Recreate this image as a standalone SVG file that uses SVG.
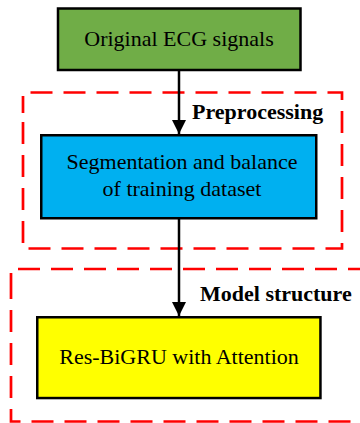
<svg xmlns="http://www.w3.org/2000/svg" width="360" height="423" viewBox="0 0 360 423">
<style>
.box{stroke:#000;stroke-width:2.5}
.grp{fill:none;stroke:#FF0000;stroke-width:2.7;stroke-dasharray:22 11}
.t{font-family:"Liberation Serif","Times New Roman",serif;font-size:22px;fill:#000;text-anchor:middle}
.lbl{font-family:"Liberation Serif","Times New Roman",serif;font-size:22px;font-weight:bold;fill:#000}
.conn{stroke:#000;stroke-width:2.5;fill:none}
</style>
<defs>
<marker id="ah" viewBox="0 0 14 14" refX="14" refY="7" markerWidth="14" markerHeight="14" markerUnits="userSpaceOnUse" orient="auto">
<path d="M0,0 L14,7 L0,14 Z" fill="#000"/>
</marker>
</defs>
<g id="group-preprocessing">
<path class="grp" d="M23,113 V92.5 H342 V248.5 H23 Z" stroke-dashoffset="5"/>
<text class="lbl" x="192" y="119">Preprocessing</text>
</g>
<g id="group-model">
<path class="grp" d="M11,290 V269 H372 V421.5 H11 Z" stroke-dashoffset="5"/>
<text class="lbl" x="200" y="301">Model structure</text>
</g>
<g id="connectors">
<line class="conn" x1="179" y1="71" x2="179" y2="134" marker-end="url(#ah)"/>
<line class="conn" x1="179" y1="219" x2="179" y2="316" marker-end="url(#ah)"/>
</g>
<g id="node-ecg">
<rect class="box" x="58" y="8.5" width="242.5" height="61.5" fill="#70AD47"/>
<text class="t" x="179" y="46">Original ECG signals</text>
</g>
<g id="node-seg">
<rect class="box" x="41.25" y="135.25" width="275" height="83" fill="#00B0F0"/>
<text class="t" x="182" y="169">Segmentation and balance</text>
<text class="t" x="182" y="196">of training dataset</text>
</g>
<g id="node-model">
<rect class="box" x="37.25" y="317.25" width="283.2" height="80.8" fill="#FFFF00"/>
<text class="t" x="179" y="364">Res-BiGRU with Attention</text>
</g>
</svg>
